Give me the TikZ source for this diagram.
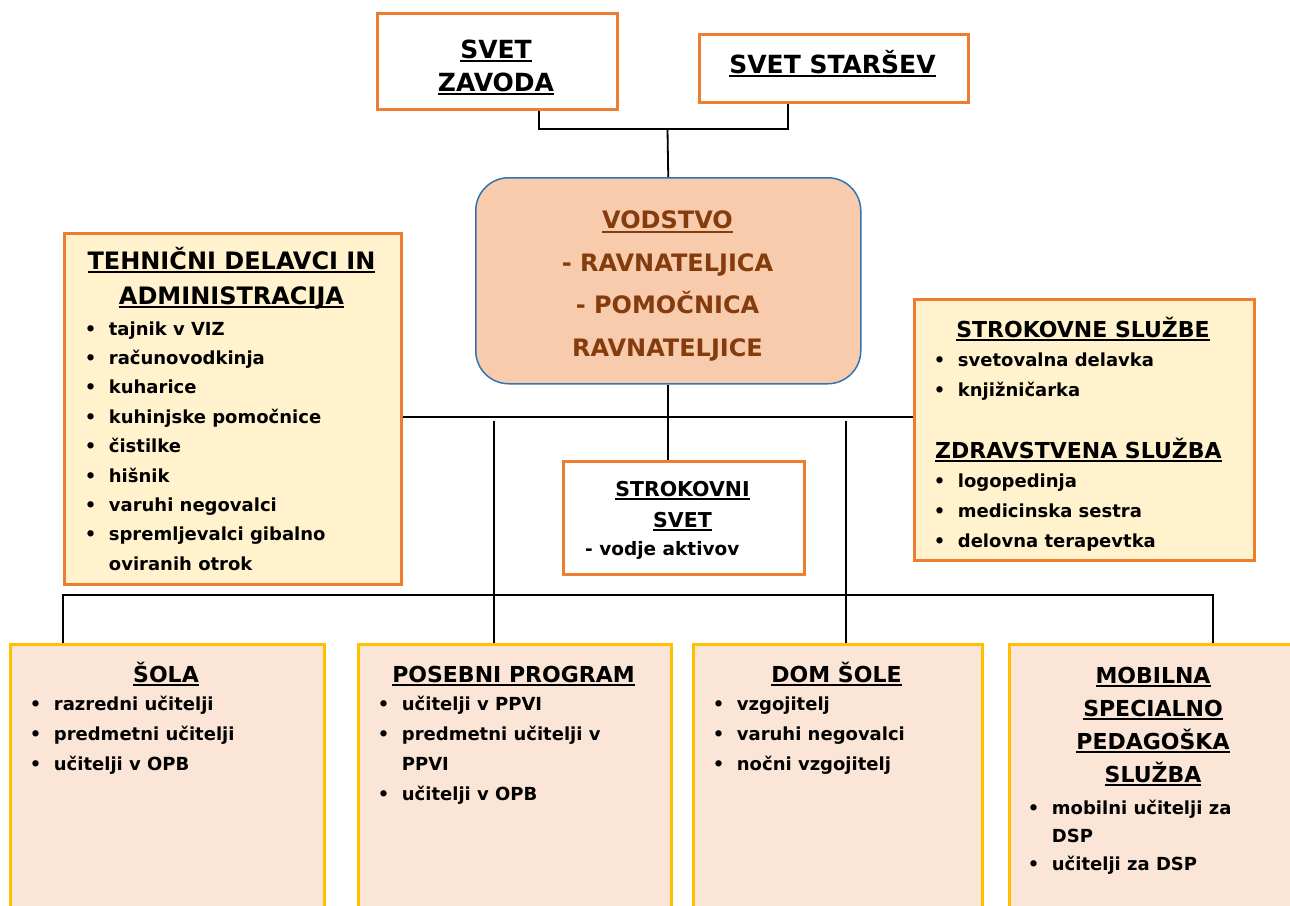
\documentclass[tikz,border=0pt]{standalone}
\usepackage{fontspec}
\setmainfont{DejaVu Sans}
\usetikzlibrary{positioning}

\definecolor{orng}{HTML}{ED7D31}
\definecolor{creme}{HTML}{FFF2CC}
\definecolor{peach}{HTML}{F8CBAD}
\definecolor{rose}{HTML}{FBE5D6}
\definecolor{gold}{HTML}{FFC000}
\definecolor{blu}{HTML}{2E75B6}
\definecolor{brn}{HTML}{843C0C}

\newsavebox\ulbox
\newcommand\ul[1]{\sbox\ulbox{#1}\rlap{\rule[-4pt]{\wd\ulbox}{2pt}}\usebox\ulbox}
\newcommand\bul{\makebox[24pt][l]{\textbullet}}
\newcommand\ind{\hspace*{24pt}}

\begin{document}
\begin{tikzpicture}[x=1pt,y=-1pt,
    box/.style={draw,line width=2.5pt,anchor=north west,inner sep=0pt},
    whitebox/.style={box,draw=orng,fill=white},
    cremebox/.style={box,draw=orng,fill=creme},
    unitbox/.style={box,draw=gold,fill=rose},
    leadbox/.style={box,draw=blu,fill=peach,line width=1.5pt,rounded corners=33pt},
    title/.style={inner sep=0pt,align=center,font=\bfseries\fontsize{22}{33}\selectfont},
    list/.style={inner sep=0pt,align=left,anchor=north west,font=\bfseries\fontsize{18}{30}\selectfont},
    link/.style={line width=1.8pt}]
  \useasboundingbox (0,0) rectangle (1290,905);

  % Sveti na vrhu
  \node[whitebox,minimum width=240pt,minimum height=96pt] (zavod) at (376,12) {};
  \node[title,anchor=north,font=\bfseries\fontsize{25}{33}\selectfont] (zavodtxt) at (496,34.9)
    {\strut\ul{SVET}\\\ul{ZAVODA}};
  \node[whitebox,minimum width=269pt,minimum height=68pt] (starsev) at (698,33) {};
  \node[title,anchor=base,font=\bfseries\fontsize{25}{33}\selectfont] (starsevtxt) at (832.5,73)
    {\ul{SVET STARŠEV}};

  % Vodstvo
  \node[leadbox,minimum width=385pt,minimum height=206pt] (vodstvo) at (475,177) {};
  \node[title,anchor=north,text=brn,font=\bfseries\fontsize{24}{42.5}\selectfont] (vodtxt) at (667.5,198.8)
    {\strut\ul{VODSTVO}\\- RAVNATELJICA\\- POMOČNICA\\RAVNATELJICE};

  % Tehnicni delavci
  \node[cremebox,minimum width=337pt,minimum height=351pt] (tehn) at (63,232) {};
  \node[title,anchor=north,font=\bfseries\fontsize{24}{35}\selectfont] (tehntxt) at (231.5,244.5)
    {\strut\ul{TEHNIČNI DELAVCI IN}\\\ul{ADMINISTRACIJA}};
  \node[list,font=\bfseries\fontsize{18}{29.4}\selectfont] (tehnlist) at (84.7,314.4)
    {\strut\bul tajnik v VIZ\\\bul računovodkinja\\\bul kuharice\\\bul kuhinjske pomočnice\\
     \bul čistilke\\\bul hišnik\\\bul varuhi negovalci\\\bul spremljevalci gibalno\\\ind oviranih otrok};

  % Strokovne sluzbe
  \node[cremebox,minimum width=340pt,minimum height=261pt] (strok) at (913,298) {};
  \begin{scope}
    \clip (914.25,299.25) rectangle (1251.75,557.75);
    \node[title,anchor=base] (stroktxt) at (1083,337) {\ul{STROKOVNE SLUŽBE}};
    \node[list] (stroklist) at (933.7,345) {\strut\bul svetovalna delavka\\\bul knjižničarka};
    \node[title,anchor=base west] (zdravtxt) at (935,458) {\ul{ZDRAVSTVENA SLUŽBA}};
    \node[list] (zdravlist) at (933.7,466) {\strut\bul logopedinja\\\bul medicinska sestra\\\bul delovna terapevtka};
  \end{scope}

  % Strokovni svet
  \node[whitebox,minimum width=241pt,minimum height=113pt] (svet) at (562,460) {};
  \node[title,anchor=north,font=\bfseries\fontsize{20.5}{31}\selectfont] (svettxt) at (682.5,474.3)
    {\strut\ul{STROKOVNI}\\\ul{SVET}};
  \node[anchor=base west,inner sep=0pt,font=\bfseries\fontsize{18.5}{30}\selectfont] (svetlist) at (585,555)
    {- vodje aktivov};

  % Enote spodaj
  \node[unitbox,minimum width=314pt,minimum height=290pt] (sola) at (9,643) {};
  \node[title,anchor=base] (solatxt) at (166,682) {\ul{ŠOLA}};
  \node[list] (solalist) at (29.7,689)
    {\strut\bul razredni učitelji\\\bul predmetni učitelji\\\bul učitelji v OPB};

  \node[unitbox,minimum width=313pt,minimum height=290pt] (posebni) at (357,643) {};
  \node[title,anchor=base] (posebnitxt) at (513.5,682) {\ul{POSEBNI PROGRAM}};
  \node[list] (posebnilist) at (377.7,689)
    {\strut\bul učitelji v PPVI\\\bul predmetni učitelji v\\\ind PPVI\\\bul učitelji v OPB};

  \node[unitbox,minimum width=289pt,minimum height=290pt] (dom) at (692,643) {};
  \node[title,anchor=base] (domtxt) at (836.5,682) {\ul{DOM ŠOLE}};
  \node[list] (domlist) at (712.7,689)
    {\strut\bul vzgojitelj\\\bul varuhi negovalci\\\bul nočni vzgojitelj};

  \node[unitbox,minimum width=300pt,minimum height=290pt] (mobil) at (1008,643) {};
  \node[title,anchor=north] (mobiltxt) at (1153,659.9)
    {\strut\ul{MOBILNA}\\\ul{SPECIALNO}\\\ul{PEDAGOŠKA}\\\ul{SLUŽBA}};
  \node[list,font=\bfseries\fontsize{18}{28}\selectfont] (mobillist) at (1027.7,794.4)
    {\strut\bul mobilni učitelji za\\\ind DSP\\\bul učitelji za DSP};

  % Povezave
  \coordinate (jtop) at (667.5,129);
  \draw[link] ([xshift=42pt]zavod.south) |- (jtop) -| ([xshift=-45.5pt]starsev.south);
  \draw[link] (jtop) -- (vodstvo.north);
  \coordinate (jmid) at (667.5,417);
  \draw[link] (tehn.east |- jmid) -- (strok.west |- jmid);
  \draw[link] (vodstvo.south) -- (vodstvo.south |- svet.north);
  \coordinate (jpos) at (494,421);
  \coordinate (jdom) at (846,421);
  \draw[link] (jpos) -- (jpos |- posebni.north);
  \draw[link] (jdom) -- (jdom |- dom.north);
  \coordinate (jsola) at (63,595);
  \coordinate (jmob) at (1213,595);
  \draw[link] (jsola |- sola.north) -- (jsola) -- (jmob) -- (jmob |- mobil.north);
\end{tikzpicture}
\end{document}
